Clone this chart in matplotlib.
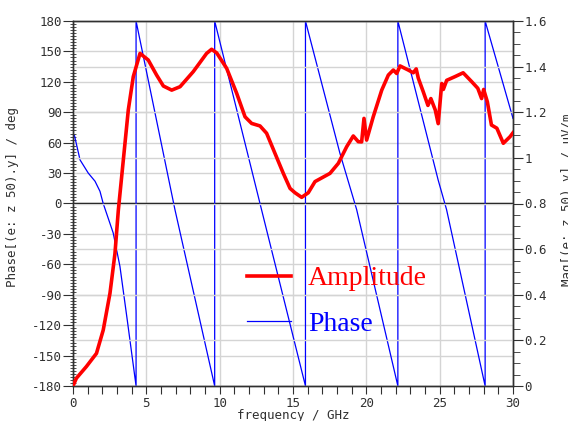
import matplotlib
matplotlib.use("Agg")
import matplotlib.pyplot as plt
from matplotlib.ticker import MultipleLocator

# ---------------- data ----------------
phase_freq = [0, 0, 0.1, 0.48, 1.04, 1.5, 1.84, 2.06, 2.74, 3.2, 3.7, 4.3,
              4.3, 6.95, 9.66,
              9.66, 12.75, 15.85,
              15.85, 18.2, 19.34, 22.15,
              22.15, 24.9, 25.47, 28.1,
              28.1, 30.0]
phase_deg = [0, 67, 67, 43, 30, 22, 12, 0, -29, -62, -115, -180,
             180, -6, -180,
             180, 0, -180,
             180, 49.5, -6, -180,
             180, 23, -6, -180,
             180, 84]

amp_freq = [0, 0.23, 0.91, 1.6, 2.06, 2.52, 2.86, 3.09, 3.43, 3.77, 4.11, 4.57,
            5.13, 5.7, 6.16, 6.73, 7.3, 8.2, 9.11, 9.45, 9.8, 10.48, 11.16, 11.73,
            12.18, 12.75, 13.2, 13.77, 14.34, 14.8, 15.14, 15.59, 16.04, 16.5,
            17.52, 18.09, 18.66, 19.11, 19.45, 19.68, 19.84, 20.02, 20.47, 21.05,
            21.5, 21.84, 22.07, 22.3, 22.86, 23.2, 23.4, 23.54, 23.88, 24.2, 24.4,
            24.7, 24.9, 25.14, 25.25, 25.48, 26.04, 26.6, 27.17, 27.6, 27.86, 28.0,
            28.25, 28.53, 28.9, 29.34, 29.8, 30.0]
amp_val = [0, 0.034, 0.085, 0.143, 0.245, 0.406, 0.58, 0.77, 0.99, 1.21, 1.356, 1.458,
           1.429, 1.363, 1.315, 1.297, 1.312, 1.378, 1.458, 1.476, 1.46, 1.392, 1.283, 1.18,
           1.151, 1.14, 1.108, 1.02, 0.932, 0.866, 0.847, 0.827, 0.847, 0.896,
           0.932, 0.976, 1.049, 1.096, 1.071, 1.07, 1.173, 1.078, 1.18, 1.297,
           1.363, 1.385, 1.37, 1.403, 1.385, 1.373, 1.39, 1.35, 1.29, 1.23, 1.26,
           1.21, 1.15, 1.326, 1.30, 1.34, 1.356, 1.373, 1.335, 1.305, 1.26, 1.30,
           1.246, 1.144, 1.13, 1.064, 1.093, 1.11]

x_ticks = [0, 5, 10, 15, 20, 25, 30]
phase_ticks = [-180, -150, -120, -90, -60, -30, 0, 30, 60, 90, 120, 150, 180]
amp_ticks = [0, 0.2, 0.4, 0.6, 0.8, 1.0, 1.2, 1.4, 1.6]
amp_ticklabels = ["0", "0.2", "0.4", "0.6", "0.8", "1", "1.2", "1.4", "1.6"]

# ---------------- figure ----------------
W, H = 568, 421
fig = plt.figure(figsize=(W / 100, H / 100), dpi=100)
L, R, T, B = 73, 513, 21, 386
ax = fig.add_axes([L / W, 1 - B / H, (R - L) / W, (B - T) / H])
ax2 = ax.twinx()

grid_c = "#d4d4d4"
tick_c = "#303030"
mono = "DejaVu Sans Mono"

ax.set_xlim(0, 30)
ax.set_ylim(-180, 180)
ax2.set_ylim(0, 1.6)

ax.set_xticks(x_ticks)
ax.set_yticks(phase_ticks)
ax.set_yticklabels([str(v) for v in phase_ticks])
ax2.set_yticks(amp_ticks)
ax2.set_yticklabels(amp_ticklabels)
ax.xaxis.set_minor_locator(MultipleLocator(1))
ax.yaxis.set_minor_locator(MultipleLocator(3))
ax2.yaxis.set_minor_locator(MultipleLocator(0.05))

for a in (ax, ax2):
    a.tick_params(axis="both", which="major", labelsize=9, colors=tick_c,
                  labelcolor=tick_c, width=0.8)
    for lbl in a.get_xticklabels() + a.get_yticklabels():
        lbl.set_family(mono)
ax.tick_params(axis="x", which="major", length=6, pad=2, direction="out")
ax.tick_params(axis="x", which="minor", length=6, width=0.8, color=tick_c, direction="out")
ax.tick_params(axis="y", which="major", length=7, pad=1, direction="out")
ax.tick_params(axis="y", which="minor", length=4, width=0.6, color=tick_c, direction="inout")
ax2.tick_params(axis="y", which="major", length=7, pad=1, direction="out")
ax2.tick_params(axis="y", which="minor", length=5, width=0.6, color=tick_c, direction="out")

ax.grid(True, which="major", color=grid_c, linewidth=1.0)
ax2.grid(True, which="major", axis="y", color=grid_c, linewidth=1.0)
ax.set_axisbelow(True)
ax2.set_axisbelow(True)

for a in (ax, ax2):
    for s in a.spines.values():
        s.set_color(tick_c)
        s.set_linewidth(1.0)

ax.axhline(0, color="black", linewidth=1.0, zorder=1.5)

ln_phase, = ax.plot(phase_freq, phase_deg, color="#0000ff", linewidth=0.9, zorder=3)
ln_amp, = ax2.plot(amp_freq, amp_val, color="#ff0000", linewidth=2.6, zorder=3)

ax2.patch.set_visible(False)

leg = ax2.legend([ln_amp, ln_phase], ["Amplitude", "Phase"], loc="center left",
                 bbox_to_anchor=(0.395, 0.232), frameon=False, borderpad=0,
                 borderaxespad=0, handlelength=1.6, handletextpad=0.6,
                 labelspacing=0.72, labelcolor="linecolor",
                 prop={"family": "Liberation Serif", "size": 20})
leg.set_zorder(10)

lab_kw = dict(fontsize=9, color=tick_c, family=mono)
fig.text(13 / W, 1 - 197 / H, "Phase[(e: z 50).y] / deg", rotation=90,
         ha="center", va="center", **lab_kw)
fig.text(567 / W, 1 - 200 / H, "Mag[(e: z 50).y] / uV/m", rotation=90,
         ha="center", va="center", **lab_kw)
fig.text(293 / W, 1 - 416 / H, "frequency / GHz", ha="center", va="center", **lab_kw)

fig.savefig("out.png", dpi=100)
